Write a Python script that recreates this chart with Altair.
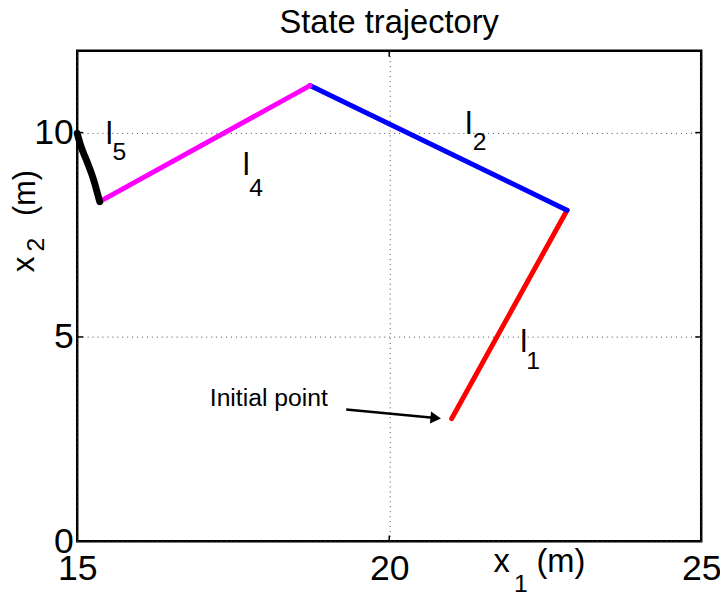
import altair as alt
import pandas as pd

# trajectory segments (x1, x2 in metres)
seg = ["l1", "l1", "l2", "l2", "l4", "l4", "l5", "l5", "l5", "l5", "l5"]
px1 = [21.0, 22.85, 22.85, 18.73, 18.73, 15.36, 15.36, 15.26, 15.17, 15.07, 15.0]
px2 = [3.0, 8.10, 8.10, 11.15, 11.15, 8.31, 8.31, 8.86, 9.24, 9.62, 9.98]
seg_domain = ["l1", "l2", "l4", "l5"]
seg_colors = ["#ff0000", "#0000ff", "#ff00ff", "#000000"]
seg_widths = {"l1": 5, "l2": 5, "l4": 5, "l5": 7}

x_ticks = [15, 20, 25]
y_ticks = [0, 5, 10]

# segment labels (letter and subscript), data coords
lab_text = ["l", "1", "l", "2", "l", "4", "l", "5"]
lab_x = [22.155, 22.306, 21.276, 21.450, 17.710, 17.868, 15.515, 15.674]
lab_y = [4.621, 4.210, 9.968, 9.581, 8.952, 8.444, 9.727, 9.340]
lab_fs = [32, 25, 32, 25, 32, 25, 32, 25]

# left-aligned texts: annotation + axis titles
ann_text = ["Initial point", "x", "1", "(m)", "x", "2", "(m)"]
ann_x = [17.124, 21.67, 22.00, 22.36, 14.303, 14.461, 14.319]
ann_y = [3.315, -0.75, -1.234, -0.75, 6.581, 7.089, 7.96]
ann_fs = [25, 33, 25, 33, 32, 25, 31]
ann_ang = [0, 0, 0, 0, 270, 270, 270]

# arrow
arrow_tail = (19.311, 3.225)
arrow_head = (20.745, 3.019)
arrow_angle = 5.5

df = pd.DataFrame({
    "x1": px1, "x2": px2, "seg": seg,
    "i": list(range(len(seg))),
    "w": [seg_widths[s] for s in seg],
})
lab_df = pd.DataFrame({"t": lab_text, "x": lab_x, "y": lab_y, "fs": lab_fs})
ann_df = pd.DataFrame({"t": ann_text, "x": ann_x, "y": ann_y, "fs": ann_fs, "ang": ann_ang})
arr_df = pd.DataFrame({"x": [arrow_tail[0]], "y": [arrow_tail[1]],
                       "xe": [arrow_head[0]], "ye": [arrow_head[1]]})
head_df = pd.DataFrame({"x": [arrow_head[0]], "y": [arrow_head[1]], "ang": [arrow_angle]})

# inward tick marks
xt_len = 0.095
yt_len = 0.145
tick_rows = []
for v in x_ticks[1:-1]:
    tick_rows.append({"x": v, "x2": v, "y": 0, "y2": yt_len})
    tick_rows.append({"x": v, "x2": v, "y": 12, "y2": 12 - yt_len})
for v in y_ticks[1:]:
    tick_rows.append({"x": 15, "x2": 15 + xt_len, "y": v, "y2": v})
    tick_rows.append({"x": 25, "x2": 25 - xt_len, "y": v, "y2": v})
tick_df = pd.DataFrame(tick_rows)

FONT = "Liberation Sans"

xs = alt.Scale(domain=[15, 25], nice=False, zero=False)
ys = alt.Scale(domain=[0, 12], nice=False, zero=False)

xaxis = alt.Axis(values=x_ticks, title=None, grid=True, labelFlush=False,
                 labelOverlap=False, labelPadding=11, format="d")
yaxis = alt.Axis(values=y_ticks, title=None, grid=True, labelOverlap=False,
                 labelPadding=4, format="d")

lines = alt.Chart(df).mark_line(strokeCap="round", strokeJoin="round",
                                interpolate="cardinal").encode(
    x=alt.X("x1:Q", scale=xs, axis=xaxis),
    y=alt.Y("x2:Q", scale=ys, axis=yaxis),
    color=alt.Color("seg:N", scale=alt.Scale(domain=seg_domain, range=seg_colors), legend=None),
    strokeWidth=alt.StrokeWidth("w:Q", scale=None),
    detail="seg:N",
    order="i:Q",
)

ticks = alt.Chart(tick_df).mark_rule(color="black", strokeWidth=1.5).encode(
    x=alt.X("x:Q", scale=xs), x2="x2:Q",
    y=alt.Y("y:Q", scale=ys), y2="y2:Q",
)

labels = alt.Chart(lab_df).mark_text(align="center", baseline="alphabetic",
                                     font=FONT, color="black").encode(
    x=alt.X("x:Q", scale=xs), y=alt.Y("y:Q", scale=ys),
    text="t:N", size=alt.Size("fs:Q", scale=None),
)

ann = alt.Chart(ann_df).mark_text(align="left", baseline="alphabetic",
                                  font=FONT, color="black").encode(
    x=alt.X("x:Q", scale=xs), y=alt.Y("y:Q", scale=ys),
    text="t:N", size=alt.Size("fs:Q", scale=None),
    angle=alt.Angle("ang:Q", scale=None),
)

arrow = alt.Chart(arr_df).mark_rule(color="black", strokeWidth=2.5).encode(
    x=alt.X("x:Q", scale=xs), y=alt.Y("y:Q", scale=ys), x2="xe:Q", y2="ye:Q",
)

head = alt.Chart(head_df).mark_point(shape="triangle-right", filled=True,
                                     color="black", opacity=1, size=150).encode(
    x=alt.X("x:Q", scale=xs), y=alt.Y("y:Q", scale=ys),
    angle=alt.Angle("ang:Q", scale=None),
)

chart = alt.layer(ticks, lines, arrow, head, labels, ann).properties(
    width=631, height=496,
    title=alt.TitleParams("State trajectory", fontSize=33, font=FONT,
                          fontWeight="normal", color="black", offset=10),
    autosize=alt.AutoSizeParams(type="none"),
    padding={"left": 70, "top": 40, "right": 19, "bottom": 54},
).configure_view(stroke="black", strokeWidth=2.5).configure_axis(
    domain=False, ticks=False,
    labelFont=FONT, labelFontSize=36, labelColor="black",
    gridDash=[1, 4], gridColor="#444444", gridWidth=1, gridOpacity=1,
)

chart.save("out.html", embed_options={"renderer": "svg", "actions": False})
